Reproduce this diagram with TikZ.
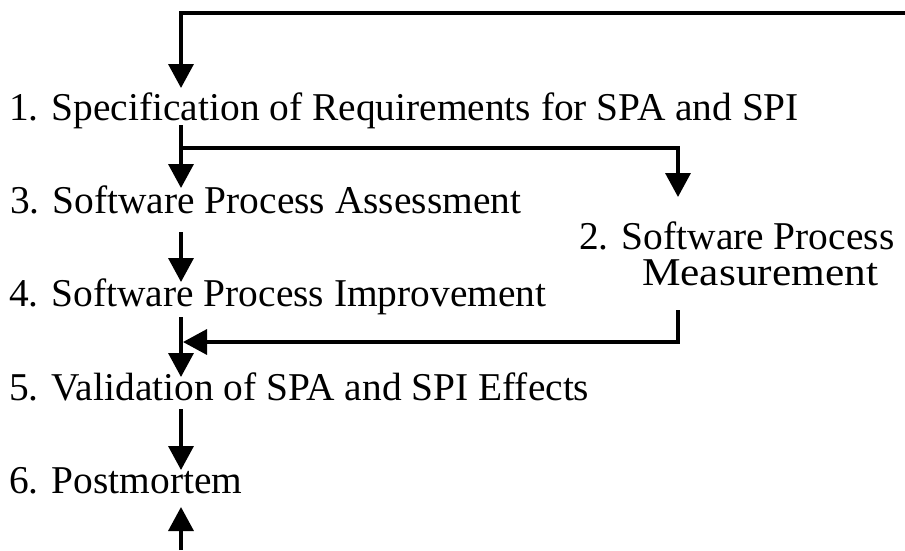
\documentclass[tikz,border=0pt]{standalone}
\usepackage{fontspec}
\setmainfont[Ligatures=NoCommon]{Liberation Serif}
\usetikzlibrary{arrows.meta}
\begin{document}
\begin{tikzpicture}[x=1pt,y=-1pt,
  lbl/.style={anchor=base west,inner sep=0pt,font=\fontsize{39.4}{36}\selectfont},
  flow/.style={line width=3.5pt,-{Triangle[length=24pt,width=25pt]},line join=miter}]
\useasboundingbox (0,0) rectangle (905,550);
% labels
\node[lbl] (n1) at (9,120) {1. Specification of Requirements for SPA and SPI};
\node[lbl] (n3) at (10,213) {3. Software Process Assessment};
\node[lbl] (n4) at (9,306) {4. Software Process Improvement};
\node[lbl] (n5) at (9,400) {5. Validation of SPA and SPI Effects};
\node[lbl] (n6) at (9,493) {6. Postmortem};
\node[lbl] (n2a) at (579,249) {2. Software Process};
\node[lbl] (n2b) at (642,285) {\scalebox{1.1}[1]{Measurement}};
% connector points
\coordinate (inR) at (905,13);
\coordinate (inC) at (181,13);
\coordinate (t1) at (181,88);
\coordinate (s1) at (181,125);
\coordinate (br) at (181,148);
\coordinate (brR) at (678,148);
\coordinate (t2) at (678,197);
\coordinate (t3) at (181,188);
\coordinate (s3) at (181,232);
\coordinate (t4) at (181,282);
\coordinate (s4) at (181,317);
\coordinate (t5) at (181,377);
\coordinate (s2) at (678,310);
\coordinate (rC) at (678,342);
\coordinate (rT) at (183,342);
\coordinate (s5) at (181,409);
\coordinate (t6) at (181,470);
\coordinate (inB) at (181,550);
\coordinate (t6b) at (181,507);
% connectors
\draw[flow] (inR) -- (inC) -- (t1);
\draw[flow] (s1) -- (t3);
\draw[flow] (br) -- (brR) -- (t2);
\draw[flow] (s3) -- (t4);
\draw[flow] (s4) -- (t5);
\draw[flow] (s2) -- (rC) -- (rT);
\draw[flow] (s5) -- (t6);
\draw[flow] (inB) -- (t6b);
\end{tikzpicture}
\end{document}
